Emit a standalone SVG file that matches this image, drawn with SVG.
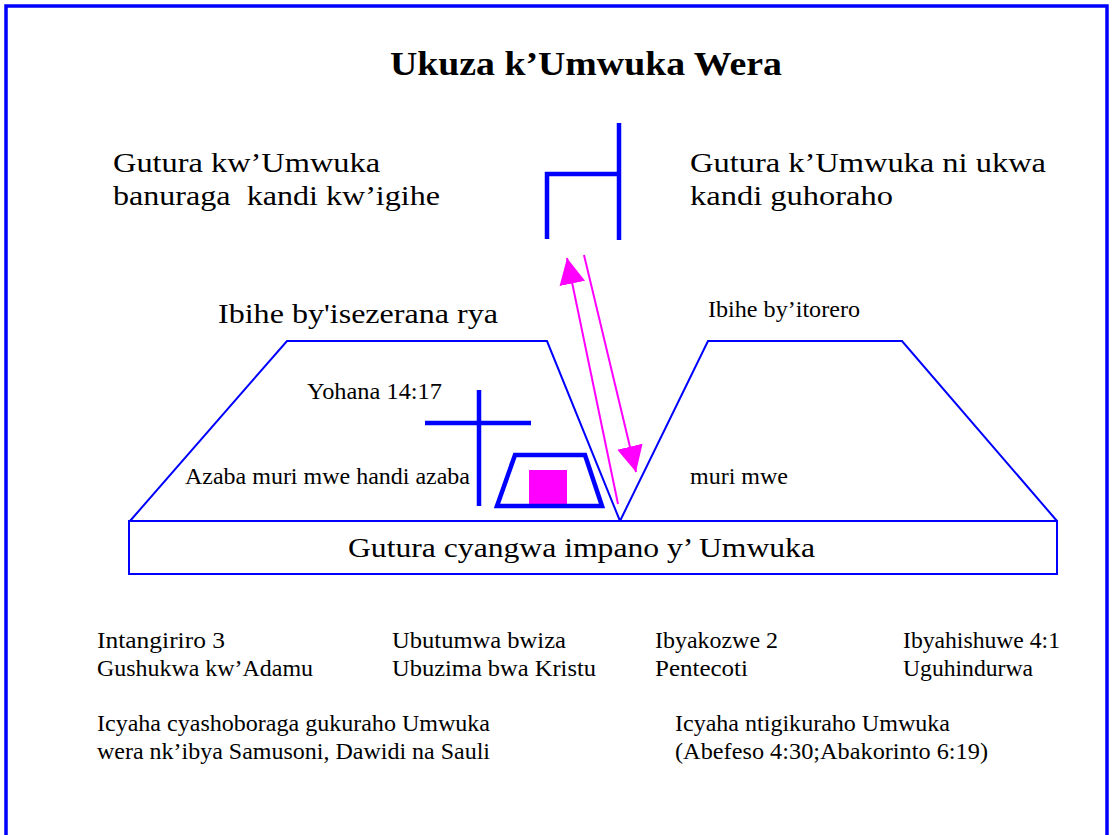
<svg xmlns="http://www.w3.org/2000/svg" width="1112" height="835" viewBox="0 0 1112 835">
<defs>
<style>
.t{font-family:"Liberation Serif","Times New Roman",serif;fill:#000}
.big{font-size:27px}
.mid{font-size:23px}
.sm{font-size:23px}
.thin{fill:none;stroke:#0000ff;stroke-width:2}
.thick{fill:none;stroke:#0000ff;stroke-width:4.5}
.mag{stroke:#ff00ff;stroke-width:2;fill:none}
</style>
<marker id="ah" viewBox="0 0 10 10" refX="10" refY="5" markerWidth="13" markerHeight="13" markerUnits="userSpaceOnUse" orient="auto">
<path d="M0,0 L10,5 L0,10 z" fill="#ff00ff"/>
</marker>
<marker id="ahb" viewBox="0 0 10 10" refX="10" refY="5" markerWidth="26" markerHeight="26" markerUnits="userSpaceOnUse" orient="auto">
<path d="M0,0 L10,5 L0,10 z" fill="#ff00ff"/>
</marker>
</defs>
<rect width="1112" height="835" fill="#fff"/>
<path d="M6,840 V6 H1107 V840" fill="none" stroke="#0000ff" stroke-width="3.5"/>

<g id="title">
<text class="t" x="390" y="75" font-size="33" font-weight="bold" textLength="392" lengthAdjust="spacingAndGlyphs">Ukuza k’Umwuka Wera</text>
</g>

<g id="top-left-text">
<text class="t big" x="113" y="172" textLength="267" lengthAdjust="spacingAndGlyphs">Gutura kw’Umwuka</text>
<text class="t big" x="113" y="205" textLength="327" lengthAdjust="spacingAndGlyphs" xml:space="preserve">banuraga  kandi kw’igihe</text>
</g>

<g id="top-right-text">
<text class="t big" x="690" y="172" textLength="356" lengthAdjust="spacingAndGlyphs">Gutura k’Umwuka ni ukwa</text>
<text class="t big" x="690" y="205" textLength="203" lengthAdjust="spacingAndGlyphs">kandi guhoraho</text>
</g>

<g id="hook">
<path class="thick" d="M547,239 V174 H619"/>
<path class="thick" d="M619,123 V240"/>
</g>

<g id="left-period">
<path class="thin" d="M130,521 L287,341 L547,341 L620,521"/>
<text class="t big" x="218" y="323" textLength="280" lengthAdjust="spacingAndGlyphs">Ibihe by'isezerana rya</text>
<text class="t mid" x="307" y="399" textLength="135" lengthAdjust="spacingAndGlyphs">Yohana 14:17</text>
<text class="t mid" x="185" y="484" textLength="285" lengthAdjust="spacingAndGlyphs">Azaba muri mwe handi azaba</text>
</g>

<g id="cross">
<path class="thick" d="M479,390 V506 M425,423 H531"/>
</g>

<g id="ark">
<rect x="529" y="470" width="38" height="37" fill="#ff00ff"/>
<path class="thick" d="M515,455 H585 L602,506 H497 Z"/>
</g>

<g id="right-period">
<path class="thin" d="M620,521 L708,341 L902,341 L1057,521"/>
<text class="t mid" x="708" y="317" textLength="152" lengthAdjust="spacingAndGlyphs">Ibihe by’itorero</text>
<text class="t mid" x="690" y="484" textLength="98" lengthAdjust="spacingAndGlyphs">muri mwe</text>
</g>

<g id="base">
<rect class="thin" x="129" y="521" width="928" height="53"/>
<text class="t big" x="348" y="557" textLength="467" lengthAdjust="spacingAndGlyphs">Gutura cyangwa impano y’ Umwuka</text>
</g>

<g id="connectors">
<line class="mag" x1="618" y1="504" x2="567" y2="258" marker-end="url(#ahb)"/>
<line class="mag" x1="584" y1="255" x2="636" y2="472" marker-end="url(#ahb)"/>
</g>

<g id="bottom-1">
<text class="t sm" x="97" y="648" textLength="128" lengthAdjust="spacingAndGlyphs">Intangiriro 3</text>
<text class="t sm" x="97" y="676" textLength="216" lengthAdjust="spacingAndGlyphs">Gushukwa kw’Adamu</text>
</g>
<g id="bottom-2">
<text class="t sm" x="392" y="648" textLength="174" lengthAdjust="spacingAndGlyphs">Ubutumwa bwiza</text>
<text class="t sm" x="392" y="676" textLength="204" lengthAdjust="spacingAndGlyphs">Ubuzima bwa Kristu</text>
</g>
<g id="bottom-3">
<text class="t sm" x="655" y="648" textLength="123" lengthAdjust="spacingAndGlyphs">Ibyakozwe 2</text>
<text class="t sm" x="655" y="676" textLength="93" lengthAdjust="spacingAndGlyphs">Pentecoti</text>
</g>
<g id="bottom-4">
<text class="t sm" x="903" y="648" textLength="157" lengthAdjust="spacingAndGlyphs">Ibyahishuwe 4:1</text>
<text class="t sm" x="903" y="676" textLength="130" lengthAdjust="spacingAndGlyphs">Uguhindurwa</text>
</g>
<g id="bottom-left-note">
<text class="t sm" x="97" y="731" textLength="393" lengthAdjust="spacingAndGlyphs">Icyaha cyashoboraga gukuraho Umwuka</text>
<text class="t sm" x="97" y="759" textLength="393" lengthAdjust="spacingAndGlyphs">wera nk’ibya Samusoni, Dawidi na Sauli</text>
</g>
<g id="bottom-right-note">
<text class="t sm" x="675" y="731" textLength="275" lengthAdjust="spacingAndGlyphs">Icyaha ntigikuraho Umwuka</text>
<text class="t sm" x="675" y="759" textLength="313" lengthAdjust="spacingAndGlyphs">(Abefeso 4:30;Abakorinto 6:19)</text>
</g>
</svg>
